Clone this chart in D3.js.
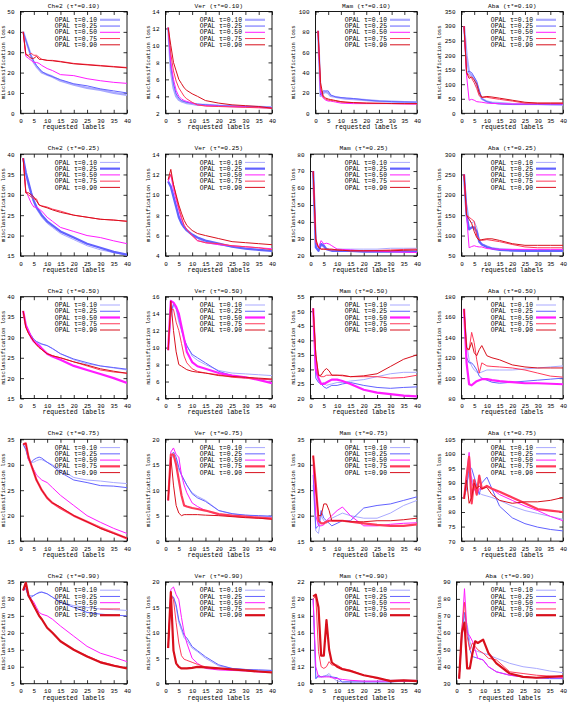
<!DOCTYPE html>
<html><head><meta charset="utf-8">
<script src="https://cdn.jsdelivr.net/npm/d3@7"></script>
<style>
html,body{margin:0;padding:0;background:#fff;}
svg text{font-family:"Liberation Mono","DejaVu Sans Mono",monospace;fill:#000;}
</style></head>
<body><svg id="chart" width="568" height="703"></svg>
<script>
// ---- data ----
const X = [1,2,3,4,5,6,7,8,10,12,15,20,25,30,35,40];
const TAUS = ["0.10","0.25","0.50","0.75","0.90"];
const DATASETS = ["Che2","Ver","Mam","Aba"];
const TAU_STAR = ["0.10","0.25","0.50","0.75","0.90"];
const X_TICKS = [0,5,10,15,20,25,30,35,40];

// y axis [min, max, step] per row (tau*) and column (dataset)
const Y_AXES = [
  [[0,50,10],[2,14,2],[0,100,20],[0,350,50]],
  [[15,40,5],[4,14,2],[20,80,10],[50,300,50]],
  [[15,40,5],[4,16,2],[20,55,5],[80,180,20]],
  [[15,35,5],[0,20,5],[15,35,5],[70,105,5]],
  [[5,35,5],[0,20,5],[10,22,2],[30,90,10]]
];

// each panel: 5 series (tau = 0.10, 0.25, 0.50, 0.75, 0.90) sampled at X
const che2_010 = [
  [40,36,32,28,25,23,21.5,20,19,18,16,14,12.5,11.5,10,9],
  [40,36,32,28,25.5,23.5,22,20.5,19,18,16.5,14.5,13.5,12,11,10],
  [40,28,27,26,25,25,24.5,23.5,22,21,19,18.5,17,16,15.2,14.7],
  [40,29,28.5,29.5,28.5,28.5,27.5,26.5,26,26,25.5,24.5,24,23.5,23,22.5],
  [40,29,28,27,27,28,26.5,26.5,26,25.8,25.3,24.3,23.8,23.3,22.8,22.3]];
const ver_010 = [
  [12.1,7,5,4,3.6,3.4,3.3,3.2,3.1,3.0,3.0,2.9,2.85,2.8,2.75,2.7],
  [12.1,7.5,5.5,4.3,3.8,3.5,3.4,3.3,3.2,3.1,3.0,2.9,2.85,2.8,2.75,2.7],
  [12.1,8,6,4.7,4,3.7,3.5,3.4,3.2,3.0,2.9,2.85,2.8,2.75,2.7,2.6],
  [12.1,9,7,5.8,5,4.5,4,3.7,3.3,3.0,2.85,2.8,2.75,2.7,2.65,2.6],
  [12.1,10,8,7,6,5.5,5,4.7,4.3,4.0,3.5,3.2,3.0,2.9,2.8,2.6]];
const mam_010 = [
  [81,17,20,21,20,17,16.5,16,15,14.5,14,13,12,11.5,11,10.5],
  [81,18,22,22,22,18,17,16,15.5,15,14.5,13,12,11.5,11.2,11],
  [81,20,15,13,12,12,11.5,11,10,9.8,9.5,9.5,9.5,9.5,9.2,9],
  [81,25,16,14,13,12.5,12.3,12,11,10.8,10.5,10,9.8,9.5,9.5,9.5],
  [81,30,17,15,14,13.5,13,12.5,11.5,11,10.5,10,9.8,9.6,9.5,9.5]];
const aba_010 = [
  [300,200,140,130,120,100,70,50,40,37,35,32,32,32,31,30],
  [300,140,145,140,125,110,80,50,40,35,32,30,30,30,30,30],
  [300,130,45,48,45,40,39,38,35,34,33,32,32,32,32,32],
  [300,140,130,120,105,85,60,55,55,52,48,42,35,35,35,35],
  [300,140,120,125,115,100,70,55,58,56,52,45,38,35,35,35]];

const che2_025 = [
  [39,35,32,30,28,26.5,25.5,24.5,23,22,20.5,19,17.5,16.5,15.8,15.2],
  [39,35.5,33,30.5,28.5,27,26,25,23.5,22.5,21,19.5,18,17,16,15.3],
  [39,31,29.5,28,27,27,26.5,26,24.5,23.5,22,21,20,19.5,18.7,18],
  [39,30.5,30,29.5,29,29,27.5,27.3,27,26.5,26,25,24.5,24,23.8,23.5],
  [39,30.5,30.5,30,29.5,28.5,27.5,27.2,26.8,26.3,25.7,25,24.5,24,23.8,23.5]];
const ver_025 = [
  [11.3,11,10,9,8,7.3,6.8,6.5,6,5.7,5.3,5.1,4.9,4.8,4.6,4.5],
  [11.3,10.8,9.8,8.8,7.8,7.2,6.8,6.5,6.1,5.8,5.5,5.2,4.9,4.7,4.6,4.5],
  [11.3,12,10.5,9.5,8.5,7.6,7,6.6,6,5.5,5.3,5.1,5,4.9,4.8,4.7],
  [11.5,12,11,9.8,8.7,7.8,7,6.6,6,5.5,5.3,5.2,5,4.9,4.8,4.6],
  [11.5,12.5,11,10,9,8.2,7.5,7,6.5,6.2,6,5.7,5.4,5.3,5.2,5.1]];
const mam_025 = [
  [70,26,24,26,25,24,23.8,23.5,24,24,24,24,24,24.5,24.5,24.5],
  [70,25,23,27,26,24,23.5,23,23,23,23,22.5,22.5,22.5,22.5,22.5],
  [70,28,25,29,27,27.5,27,26,24,23.8,23.5,23,22.8,22.5,22.2,22],
  [70,28,25,24,24,23.8,23.6,23.5,23.5,23.3,23,23,23.2,23.5,23.8,24],
  [70,30,25,24,24,24,24,24,23.5,23.3,23,23,23,23,23.3,23.5]];
const aba_025 = [
  [250,180,140,130,135,120,90,80,75,70,68,66,65,65,64,64],
  [250,150,115,120,120,110,85,78,72,68,65,63,62,62,62,62],
  [250,150,70,73,75,73,72,72,68,67,66,66,66,66,66,66],
  [250,150,145,140,135,100,90,88,90,88,85,78,72,70,70,70],
  [250,150,140,130,110,95,88,90,92,92,88,80,76,76,76,76]];

const che2_050 = [
  [36.5,33,31.5,30.5,29.5,29,28.5,28.3,28,27.2,26,24.5,23.5,23,22.5,22],
  [36.5,33,31.5,30.5,29.5,29,28.7,28.4,28,27.3,26,24.7,23.8,23,22.6,22.2],
  [36.5,33,31.5,30,29,28.5,28,27.3,26,25.3,24.5,23,22,21,20,18.8],
  [36.5,32.5,31,30,29,28.2,27.5,27,26,25.5,25,24,23,22,21.5,21.2],
  [36.5,32.5,31,30,29,28.2,27.5,27,26,25.5,25,24,23.2,22.3,21.7,21.2]];
const ver_050 = [
  [9.7,13.5,15,14.5,13,12,11,10.3,9,8.5,8,7.3,7,6.9,6.8,6.7],
  [9.7,14,15.2,14.8,13.5,12.2,11,10.2,9.2,8.8,8.2,7.2,6.7,6.5,6.3,6.2],
  [9.7,15.5,15.3,14.8,14,12.5,11,9.5,8.3,7.8,7.5,7,6.7,6.5,6.2,5.8],
  [9.7,14.5,14.5,13,12,10.5,9,8.2,7.5,7.2,7,6.8,6.5,6.4,6.3,6.2],
  [9.7,15.5,12,9.5,8,7.8,7.6,7.4,7.2,7.1,7,6.7,6.6,6.5,6.4,6.3]];
const mam_050 = [
  [51,30,26,25,25.5,24.5,24.8,25,25.5,25.5,26,26.5,27.5,28.5,29,29],
  [51,27,25.5,25,24,23.5,24,24.5,24.5,25,25.5,24.5,23.8,23.5,23.8,24],
  [51,30,27,25,25,25.5,26,26.5,26.5,26,25,23,22,21.5,21,20.7],
  [51,35,28,27.5,27.5,28,28,28,28,27.8,27.5,27.5,27.5,27,27.2,28],
  [51,35,28,28,29.5,30.3,29.5,28,28,28,27.5,27.8,28.5,31,33.5,35]];
const aba_050 = [
  [168,135,118,112,108,106,105,106,108,108,108,108,109,110,111,112],
  [168,120,115,115,112,108,102,100,98,96,95,96,97,98,99,100],
  [168,115,94,93,95,97,98,99,99,98,97,96,95,95,94.5,94],
  [168,128,128,145,135,118,105,115,112,111.5,111,110,108,105,102,101],
  [168,130,128,135,125,122,128,132,122,120,118,113,111,110,110,110]];

const che2_075 = [
  [34,33,31,30.5,30.5,30.8,31,31,30.5,30,29,27.5,27,26.8,26.5,26.3],
  [34,33,31,30.5,31,31.3,31.5,31.3,30.5,29.8,28.5,27,26.5,25.9,25.8,25.5],
  [34,34,31,30,29,28,27.5,27,26.5,25.5,24,22,20,18.7,17.5,16.5],
  [34,34.2,31.5,30,28.5,27,26,25,23.5,22.5,21.5,20,18.8,17.6,16.6,15.5],
  [34,34.2,31.5,30,28.5,27,26,25,23.5,22.5,21.7,20,18.8,17.5,16.5,15.6]];
const ver_075 = [
  [8,16,17,16,14,13,12,11,9.5,8.8,8,6,5.3,5.1,4.9,4.8],
  [8,16.5,17.5,16.5,14.5,13,12,11,9.3,8.5,7.8,6,5.4,5.1,5,4.9],
  [8,17.5,18.3,17,16.5,13,11,9.5,7.5,6.8,6,5.2,5,4.8,4.6,4.5],
  [8,17,17,15,12,9,7,6.8,6.5,6.3,6,5.3,5,4.8,4.6,4.4],
  [8,16.5,11,7,5.5,5,5.2,5.2,5.2,5.2,5.1,5,4.8,4.6,4.5,4.3]];
const mam_075 = [
  [26,17,16.5,20,19,18.5,19,19.5,20,20.5,20,19.5,19.5,20.5,22,23],
  [28,17.5,18,21,19.5,19,18.5,18,18.5,19,19,21.5,22,22.3,23,23.7],
  [30,20,18,18,18.2,19,19.5,20,21,21.7,20,18,18,18.3,18.5,18.6],
  [31.8,26,19,18.5,18.5,18.8,19,19,19,19,18.8,18.5,18.2,18,18,18.3],
  [31.8,25,20,20,22.3,22.3,21,19,19,19,18.8,18.8,19,19,19.2,19.5]];
const aba_075 = [
  [85,90,93,92,88,87,86.5,86,85.5,85,84,82,80.5,79.5,78.5,77.5],
  [85,88,95.5,95,92,89,86,90,92,88,82,78,76,74.8,74,73.5],
  [85,93,100.5,90,88,86,88,88,89,88,86,84,82,80.5,78.5,77],
  [84.5,92,99,83,91,86,92.5,88,89,88,87,85,83,81,80.5,80],
  [84.5,91,83,85,90,88,89,88,88.5,86,84,83,83.5,83.5,84,85]];

const che2_090 = [
  [32.5,33,31,31,31,31.5,32,32,31.5,30.5,29,28,27.5,27,26.8,26.6],
  [32.5,33,30.5,30.5,31,31.5,31.8,32,31.5,30.5,29,27.5,26,25.5,25.2,25],
  [32.5,34,31,30,29,27.5,26,25.5,25,24,22,19,16,14,12.8,11.5],
  [32.5,34.5,31,29.5,28,26.5,25,24,21.5,20,17.5,15,13.2,11.5,10.5,9.5],
  [32.5,34.8,31,29.5,28,26.5,25,24,21.5,20,17.5,15,13,11.3,10.3,9.5]];
const ver_090 = [
  [7,17,17,15,12,10.5,9,8.5,7,6.3,5,3.5,3,2.8,2.7,2.6],
  [7,17.5,17,15.5,12.5,11,9.5,9,7.3,6.5,5.3,3.7,3,2.8,2.7,2.6],
  [7,18.5,19,17.5,16.5,13,10,8,5,4,3,2.7,2.6,2.5,2.3,2.2],
  [7,17.5,16.5,12,8,5.5,4.8,4.6,4.2,3.8,3.3,3,2.8,2.6,2.4,2.3],
  [7,18,6.5,4,3.3,3,3,3,3.1,3.3,3.2,3,2.8,2.6,2.4,2.2]];
const mam_090 = [
  [20,10.6,10.8,10.8,10.8,11,11.2,10.8,10.3,10.2,10.3,10.3,10.3,10.4,10.4,10.4],
  [20,10.6,11,10.8,10.9,10.9,10.9,10.8,10.7,10.2,10.2,10.2,10.2,10.2,10.3,10.3],
  [20,12,10.8,10.8,10.8,10.8,10.8,10.7,10.6,10.5,10.4,10.3,10.3,10.3,10.3,10.3],
  [20,20.3,13.8,12,11.8,12,12.6,12.2,12.2,11.8,11.6,11,10.6,10.4,10.4,10.4],
  [20.3,20.5,19,13.3,13.3,17.5,14,12.5,12,11.7,11.5,11,10.7,10.3,10.4,10.3]];
const aba_090 = [
  [33,55,70,65,55,50,49.5,49,48,47,45,42,40,39,37.5,36.5],
  [33,60,72,62,50,46,45.5,45,44,40,37,35,34,33.5,33,33],
  [33,60,86,60,58,55,50,45,44,40,37,35,34,33.5,33.5,33.5],
  [33,62,78,58,50,54,52,50,48,45,44,37,36,35,34.5,34],
  [33,60,66,39,39,48,55,54,56,48,42,36,34,33.5,34,34.5]];

const PANELS = [
  [che2_010, ver_010, mam_010, aba_010],
  [che2_025, ver_025, mam_025, aba_025],
  [che2_050, ver_050, mam_050, aba_050],
  [che2_075, ver_075, mam_075, aba_075],
  [che2_090, ver_090, mam_090, aba_090]
];

// ---- style ----
const COLORS = ["#a9a9ff","#6262ff","#ff1cff","#ff3a5a","#d8101c"];
const COL_X = [0,145,290,436];
const ROW_H = 142.6;
const PLOT_W_RIGHT = 127;
const TOP = 11.5, BOTTOM = 113.3;

const svg = d3.select("#chart");
svg.append("rect").attr("width",568).attr("height",703).attr("fill","#fff");

PANELS.forEach((row, r) => {
  row.forEach((series, c) => {
    const [ymin, ymax, ystep] = Y_AXES[r][c];
    const yTicks = d3.range(ymin, ymax + ystep/2, ystep);
    const maxLen = d3.max(yTicks, t => String(t).length);
    const ox = COL_X[c], oy = r * ROW_H;
    const left = ox + (maxLen >= 3 ? 25.5 : 20.5);
    const right = ox + PLOT_W_RIGHT;
    const top = oy + TOP, bottom = oy + BOTTOM;
    const x = d3.scaleLinear().domain([0, 40]).range([left, right]);
    const y = d3.scaleLinear().domain([ymin, ymax]).range([bottom, top]);
    const g = svg.append("g");

    // clip
    const cid = `clip-${r}-${c}`;
    g.append("clipPath").attr("id", cid).append("rect")
      .attr("x", left).attr("y", top).attr("width", right-left).attr("height", bottom-top);

    // axes (ticks inward, mirrored)
    const tk = 3.5;
    const axB = g.append("g").attr("transform",`translate(0,${bottom})`)
      .call(d3.axisBottom(x).tickValues(X_TICKS).tickSizeInner(-tk).tickSizeOuter(0).tickPadding(tk+2));
    const axT = g.append("g").attr("transform",`translate(0,${top})`)
      .call(d3.axisTop(x).tickValues(X_TICKS).tickSizeInner(-tk).tickSizeOuter(0).tickFormat(""));
    const axL = g.append("g").attr("transform",`translate(${left},0)`)
      .call(d3.axisLeft(y).tickValues(yTicks).tickSizeInner(-tk).tickSizeOuter(0).tickPadding(tk+2.5).tickFormat(d3.format("d")));
    const axR = g.append("g").attr("transform",`translate(${right},0)`)
      .call(d3.axisRight(y).tickValues(yTicks).tickSizeInner(-tk).tickSizeOuter(0).tickFormat(""));
    [axB,axT,axL,axR].forEach(a => {
      a.select(".domain").remove();
      a.selectAll("line").attr("stroke","#000").attr("stroke-width",0.8);
      a.selectAll("text").attr("font-size","6px").attr("font-family","Liberation Mono, DejaVu Sans Mono, monospace").attr("fill","#000");
    });
    g.append("rect").attr("x",left).attr("y",top).attr("width",right-left).attr("height",bottom-top)
      .attr("fill","none").attr("stroke","#000").attr("stroke-width",0.9);

    // lines
    const line = d3.line().x((d,i) => x(X[i])).y(d => y(d));
    const lg = g.append("g").attr("clip-path",`url(#${cid})`);
    series.forEach((vals, k) => {
      const thick = TAUS[k] === TAU_STAR[r];
      lg.append("path").datum(vals).attr("d", line)
        .attr("fill","none").attr("stroke", COLORS[k])
        .attr("stroke-width", thick ? 2.2 : 1)
        .attr("stroke-linejoin","round");
    });

    // legend
    TAUS.forEach((t, k) => {
      const ly = top + 8.3 + k * 6.25;
      const thick = t === TAU_STAR[r];
      g.append("text").attr("x", right - 30).attr("y", ly).attr("dy","0.33em")
        .attr("text-anchor","end").attr("font-size","6.4px").text(`OPAL τ=${t}`);
      g.append("line").attr("x1", right - 27).attr("x2", right - 7).attr("y1", ly).attr("y2", ly)
        .attr("stroke", COLORS[k]).attr("stroke-width", thick ? 2.2 : 1);
    });

    // title & labels
    g.append("text").attr("x",(left+right)/2).attr("y",oy+7.5).attr("text-anchor","middle")
      .attr("font-size","6.2px").text(`${DATASETS[c]} (τ*=${TAU_STAR[r]})`);
    g.append("text").attr("x",(left+right)/2).attr("y",bottom+15.8).attr("text-anchor","middle")
      .attr("font-size","6.5px").text("requested labels");
    g.append("text").attr("transform",`translate(${ox+5},${(top+bottom)/2}) rotate(-90)`)
      .attr("text-anchor","middle").attr("font-size","5.6px").text("misclassification loss");
  });
});
</script></body></html>
